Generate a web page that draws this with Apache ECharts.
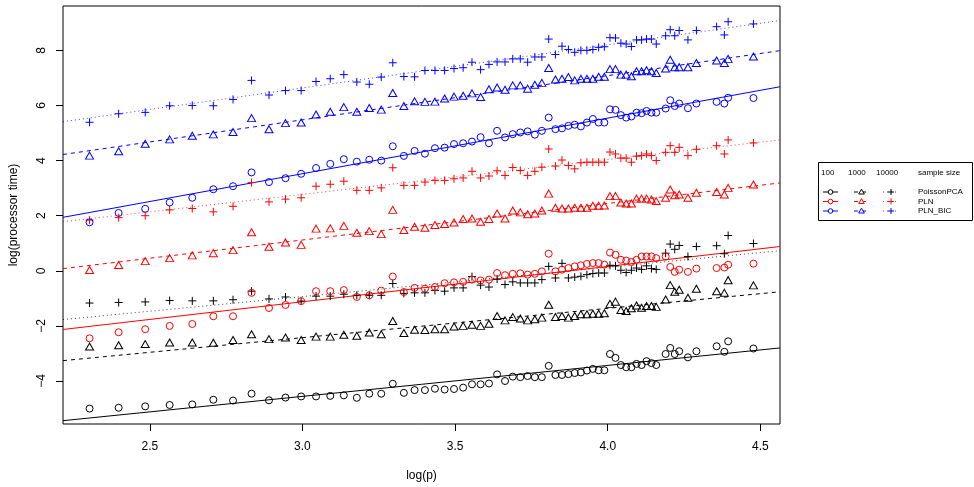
<!DOCTYPE html>
<html><head><meta charset="utf-8">
<script src="https://cdn.jsdelivr.net/npm/echarts@6/dist/echarts.min.js"></script>
<style>html,body{margin:0;padding:0;background:#fff}#c{width:974px;height:487px}</style>
</head><body><div id="c"></div>
<script>
// ---------- data ----------
const pValues = [10,11,12,13,14,15,16,17,18,19,20,21,22,23,24,25,26,27,28,29,30,31,32,33,34,35,36,37,38,39,40,41,42,43,44,45,46,47,48,49,50,51,52,53,54,55,56,57,58,59,60,61,62,63,64,66,67,68,69,71,73,78,80,81,88];
const methods = ['PoissonPCA','PLN','PLN_BIC'];
const sampleSizes = ['100','1000','10000'];
const xTicks = [2.5,3.0,3.5,4.0,4.5];
const yTicks = [-4,-2,0,2,4,6,8];

const poissonPCA_100 = [-5.00,-4.97,-4.92,-4.87,-4.85,-4.68,-4.71,
-4.46,-4.70,-4.60,-4.56,-4.56,-4.54,-4.52,-4.61,-4.46,-4.46,-4.10,-4.43,
-4.33,-4.33,-4.28,-4.31,-4.29,-4.24,-4.12,-4.12,-4.09,-3.76,-4.00,
-3.84,-3.86,-3.82,-3.86,-3.86,-3.45,-3.78,-3.78,-3.75,-3.71,-3.69,-3.62,-3.56,-3.61,-3.61,-3.02,
-3.16,-3.42,-3.50,-3.50,-3.38,-3.42,-3.28,-3.35,-3.42,
-3.02,-2.80,-3.02,-2.92,-3.14,-2.92,-2.74,-2.94,-2.56,-2.82];
const poissonPCA_1000 = [-2.75,-2.70,-2.66,-2.60,-2.60,-2.61,-2.51,
-2.30,-2.48,-2.42,-2.51,-2.39,-2.39,-2.32,-2.36,-2.24,-2.30,-1.82,-2.26,
-2.14,-2.15,-2.12,-2.12,-2.02,-2.00,-1.96,-2.00,-1.92,-1.64,-1.80,
-1.68,-1.73,-1.80,-1.76,-1.70,-1.23,-1.68,-1.64,-1.70,-1.64,-1.58,-1.58,-1.56,-1.56,-1.54,-1.20,
-1.12,-1.42,-1.46,-1.36,-1.26,-1.34,-1.28,-1.28,-1.31,
-1.04,-0.52,-0.76,-0.69,-0.98,-0.65,-0.74,-0.80,-0.34,-0.53];
const poissonPCA_10000 = [-1.17,-1.15,-1.13,-1.08,-1.09,-1.09,-1.05,
-0.74,-1.02,-0.95,-1.10,-0.92,-0.92,-0.85,-0.89,-0.89,-0.89,-0.46,-0.82,
-0.80,-0.80,-0.71,-0.74,-0.62,-0.62,-0.21,-0.52,-0.59,-0.30,-0.50,
-0.40,-0.44,-0.44,-0.44,-0.32,0.16,-0.26,0.27,-0.26,-0.23,-0.20,-0.14,-0.10,-0.08,-0.08,0.20,
0.18,0.02,-0.06,0.02,0.10,0.05,0.18,0.08,0.05,
0.64,0.97,0.78,0.92,0.52,0.88,0.91,0.62,1.28,0.99];
const pln_100 = [-2.45,-2.23,-2.12,-2.00,-1.93,-1.65,-1.65,
-0.80,-1.35,-1.24,-1.10,-0.74,-0.74,-0.70,-0.95,-0.89,-0.72,-0.21,-0.77,
-0.62,-0.65,-0.59,-0.45,-0.42,-0.40,-0.32,-0.35,-0.32,-0.08,-0.16,
-0.11,-0.09,-0.14,-0.11,-0.02,0.62,-0.02,0.04,0.10,0.16,0.20,0.25,0.28,0.28,0.22,0.66,
0.58,0.40,0.37,0.32,0.40,0.52,0.52,0.52,0.46,
0.52,0.14,-0.04,0.04,-0.04,0.08,0.10,0.12,0.22,0.26];
const pln_1000 = [0.03,0.21,0.35,0.46,0.56,0.64,0.75,
1.40,0.87,1.03,0.94,1.53,1.54,1.63,1.38,1.44,1.33,2.21,1.48,
1.60,1.56,1.66,1.70,1.75,1.88,1.90,1.78,1.88,2.08,1.90,
2.19,2.12,2.05,2.08,2.19,2.80,2.29,2.26,2.26,2.29,2.29,2.29,2.36,2.36,2.37,2.71,
2.71,2.48,2.44,2.44,2.62,2.62,2.62,2.59,2.53,
2.65,2.95,2.74,2.77,2.65,2.83,2.86,2.77,3.01,3.13];
const pln_10000 = [1.84,1.93,2.00,2.21,2.26,2.14,2.34,
3.20,2.50,2.60,2.65,3.07,3.14,3.25,2.92,2.92,3.01,3.74,3.10,
3.10,3.22,3.28,3.28,3.34,3.37,3.61,3.37,3.44,3.63,3.46,
3.75,3.64,3.46,3.61,3.76,4.42,3.80,4.02,3.82,3.70,3.92,3.94,3.94,3.94,3.94,4.31,
4.24,4.09,4.09,3.94,4.16,4.18,4.24,4.18,4.00,
4.30,4.54,4.30,4.48,4.18,4.41,4.54,4.24,4.75,4.64];
const plnBIC_100 = [1.76,2.10,2.25,2.48,2.65,2.96,3.07,
3.57,3.22,3.36,3.52,3.73,3.88,4.05,3.96,4.03,4.00,4.52,4.17,
4.35,4.25,4.45,4.47,4.60,4.63,4.69,4.85,4.63,5.08,4.84,
4.96,5.02,5.06,4.94,5.08,5.56,5.14,5.17,5.26,5.30,5.24,5.38,5.51,5.38,5.38,5.86,
5.84,5.65,5.56,5.60,5.74,5.72,5.80,5.74,5.74,
5.89,6.19,5.98,6.07,5.90,6.07,6.13,6.07,6.28,6.27];
const plnBIC_1000 = [4.18,4.34,4.61,4.77,4.90,4.95,5.04,
5.54,5.14,5.36,5.38,5.67,5.77,5.94,5.77,5.91,5.85,6.45,5.98,
6.15,6.13,6.14,6.25,6.32,6.35,6.44,6.31,6.59,6.65,6.57,
6.73,6.73,6.61,6.75,6.82,7.36,6.94,6.97,7.03,6.91,6.97,6.97,6.97,7.04,7.04,7.32,
7.32,7.12,7.12,7.06,7.24,7.24,7.28,7.24,7.18,
7.34,7.66,7.39,7.39,7.39,7.54,7.63,7.54,7.69,7.78];
const plnBIC_10000 = [5.39,5.70,5.75,5.99,6.00,5.99,6.22,
6.91,6.38,6.54,6.54,6.87,6.97,7.12,6.85,6.77,7.03,7.55,7.05,
7.04,7.27,7.27,7.27,7.34,7.37,7.57,7.30,7.49,7.58,7.58,
7.69,7.69,7.57,7.76,7.76,8.41,7.85,8.15,8.03,7.93,8.00,8.00,8.03,8.11,8.13,8.46,
8.45,8.26,8.23,8.14,8.38,8.38,8.41,8.41,8.23,
8.53,8.75,8.53,8.72,8.38,8.72,8.86,8.56,9.04,8.96];

// fitted regression lines y = a + b*log(p), per method, per sample size
const fitInterceptPoissonPCA = [-7.930,-5.618,-4.128];
const fitSlopePoissonPCA     = [1.124,1.064,1.064];
const fitInterceptPLN        = [-4.970,-2.854,-1.022];
const fitSlopePLN            = [1.282,1.324,1.265];
const fitInterceptPLNBIC     = [-2.531,0.664,1.948];
const fitSlopePLNBIC         = [2.018,1.605,1.563];

// ---------- chart ----------
const X_MIN = 2.2156, X_MAX = 4.5643, Y_MIN = -5.56, Y_MAX = 9.61;
const FONT = "'Liberation Sans', Arial, Helvetica, sans-serif";
const colors = ['#000000','#FF0000','#0000FF'];
const symbols = ['circle','triangle','path://M0,5L10,5M5,0L5,10'];
const symbolSizes = [7,[8,7],8];
const dashes = ['solid',[4,4],[1,3]];
const lineOpacity = [1,1,0.75];
const values = [[poissonPCA_100,poissonPCA_1000,poissonPCA_10000],
                [pln_100,pln_1000,pln_10000],
                [plnBIC_100,plnBIC_1000,plnBIC_10000]];
const intercepts = [fitInterceptPoissonPCA,fitInterceptPLN,fitInterceptPLNBIC];
const slopes = [fitSlopePoissonPCA,fitSlopePLN,fitSlopePLNBIC];
const xs = pValues.map(p => Math.log(p));

const series = [];
methods.forEach((m, i) => {
  sampleSizes.forEach((s, j) => {
    series.push({
      type: 'scatter', name: m + ' ' + s, silent: true,
      symbol: symbols[j], symbolSize: symbolSizes[j],
      itemStyle: { color: 'rgba(0,0,0,0)', borderColor: colors[i], borderWidth: 1, opacity: 1 },
      data: values[i][j].map((v, k) => [xs[k], v]), z: 3
    });
    const a = intercepts[i][j], b = slopes[i][j];
    series.push({
      type: 'line', silent: true, symbol: 'none', clip: true,
      lineStyle: { color: colors[i], width: 1, type: dashes[j], opacity: lineOpacity[j] },
      data: [[X_MIN, a + b * X_MIN], [X_MAX, a + b * X_MAX]], z: 2
    });
  });
});

// legend (drawn as graphic, like R's legend box)
const legendRowsY = [192, 201.5, 211];
const legendColX = [[823, 838], [854, 869], [883, 899]];
const lg = [];
lg.push({ type: 'rect', shape: { x: 818.5, y: 162.5, width: 154, height: 58 },
  style: { fill: '#fff', stroke: '#000', lineWidth: 1 }, z: 10 });
const hdrX = [821, 848, 876, 918];
['100','1000','10000','sample size'].forEach((t, k) => {
  lg.push({ type: 'text', x: hdrX[k], y: 173, z: 11,
    style: { text: t, font: '8px ' + FONT, fill: '#000', textVerticalAlign: 'middle', textAlign: 'left' } });
});
methods.forEach((m, i) => {
  const y = legendRowsY[i];
  legendColX.forEach((cx, j) => {
    lg.push({ type: 'line', z: 11, shape: { x1: cx[0], y1: y, x2: cx[1], y2: y },
      style: { stroke: colors[i], lineWidth: 1, lineDash: j === 0 ? null : dashes[j], opacity: lineOpacity[j] } });
    const mx = (cx[0] + cx[1]) / 2;
    if (j === 0) {
      lg.push({ type: 'circle', z: 12, shape: { cx: mx, cy: y, r: 2.3 },
        style: { fill: '#fff', stroke: colors[i], lineWidth: 1 } });
    } else if (j === 1) {
      lg.push({ type: 'polygon', z: 12, shape: { points: [[mx, y - 2.8], [mx + 2.8, y + 2], [mx - 2.8, y + 2]] },
        style: { fill: '#fff', stroke: colors[i], lineWidth: 1 } });
    } else {
      lg.push({ type: 'line', z: 12, shape: { x1: mx - 3, y1: y, x2: mx + 3, y2: y }, style: { stroke: colors[i], lineWidth: 1 } });
      lg.push({ type: 'line', z: 12, shape: { x1: mx, y1: y - 3, x2: mx, y2: y + 3 }, style: { stroke: colors[i], lineWidth: 1 } });
    }
  });
  lg.push({ type: 'text', x: 918, y: y, z: 11,
    style: { text: m, font: '8px ' + FONT, fill: '#000', textVerticalAlign: 'middle', textAlign: 'left' } });
});

const chart = echarts.init(document.getElementById('c'), null, { renderer: 'canvas' });
chart.setOption({
  animation: false,
  backgroundColor: '#fff',
  textStyle: { fontFamily: FONT },
  grid: { left: 63, right: 194, top: 6, bottom: 60, show: true, borderColor: '#000', borderWidth: 1, backgroundColor: 'transparent' },
  xAxis: {
    type: 'value', min: X_MIN, max: X_MAX,
    name: 'log(p)', nameLocation: 'middle', nameGap: 46,
    nameTextStyle: { fontSize: 12, color: '#000', fontFamily: FONT },
    axisLine: { show: false, onZero: false },
    axisTick: { show: true, length: 7, customValues: xTicks, lineStyle: { color: '#000' } },
    axisLabel: { customValues: xTicks, fontSize: 12, color: '#000', margin: 17, fontFamily: FONT,
      formatter: v => Number(v).toFixed(1) },
    splitLine: { show: false }
  },
  yAxis: {
    type: 'value', min: Y_MIN, max: Y_MAX,
    name: 'log(processor time)', nameLocation: 'middle', nameGap: 43,
    nameTextStyle: { fontSize: 12, color: '#000', fontFamily: FONT },
    axisLine: { show: false, onZero: false },
    axisTick: { show: true, length: 7, customValues: yTicks, lineStyle: { color: '#000' } },
    axisLabel: { customValues: yTicks, fontSize: 12, color: '#000', margin: 15, rotate: 90, fontFamily: FONT,
      formatter: v => String(v).replace('-', '\u2212') },
    splitLine: { show: false }
  },
  series: series,
  graphic: lg
});
</script>
</body></html>
